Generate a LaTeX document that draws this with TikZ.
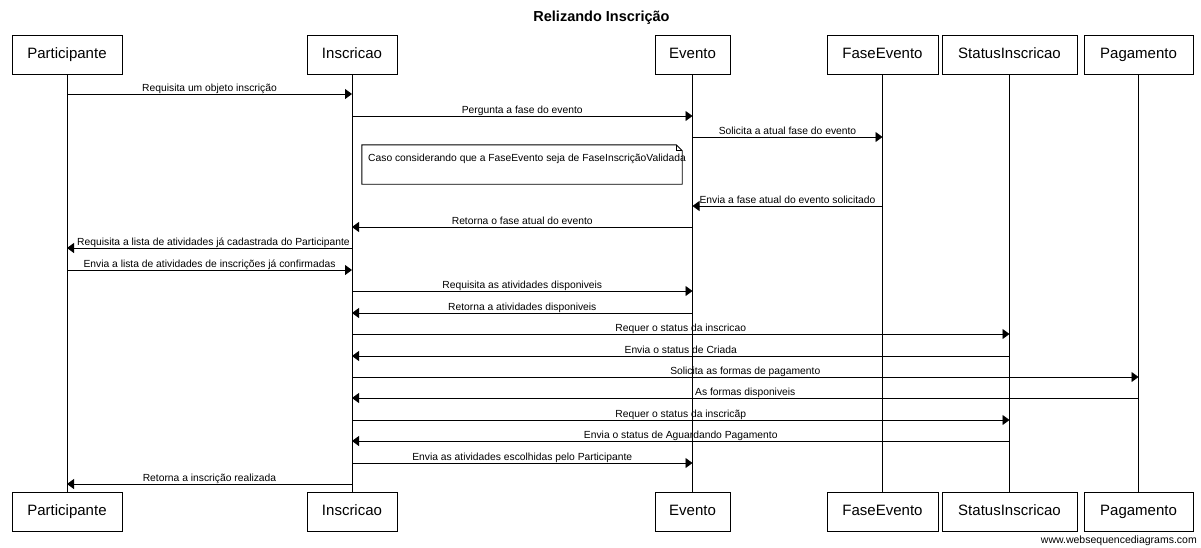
\documentclass[tikz,border=0pt]{standalone}
\usepackage{fontspec}
\setmainfont{Liberation Sans}
\usetikzlibrary{arrows.meta}
\begin{document}
\begin{tikzpicture}[x=1pt,y=-1pt,
  actor/.style={draw=black,fill=white,line width=0.9pt,minimum height=39pt,inner sep=0pt,text height=10.8pt,text depth=3.2pt,font=\fontsize{15}{18}\selectfont},
  life/.style={draw=black,line width=0.9pt},
  msg/.style={draw=black,line width=0.9pt,-{Triangle[length=7pt,width=10pt]}},
  lbl/.style={font=\fontsize{10.3}{12}\selectfont,inner sep=0pt,anchor=base,yshift=2.5pt},
  notetxt/.style={font=\fontsize{10.3}{12}\selectfont,inner sep=0pt,anchor=base west}]
\useasboundingbox[fill=white] (0,0) rectangle (1201,547);
\node[font=\bfseries\fontsize{14.5}{17}\selectfont] (title) at (601.5,18) {Relizando Inscrição};
% top boxes
\node[actor,minimum width=110pt] (pT) at (67,54.5) {Participante};
\node[actor,minimum width=90pt] (iT) at (352,54.5) {Inscricao};
\node[actor,minimum width=75pt] (eT) at (692.5,54.5) {Evento};
\node[actor,minimum width=111pt] (fT) at (882.5,54.5) {FaseEvento};
\node[actor,minimum width=135pt] (sT) at (1009.5,54.5) {StatusInscricao};
\node[actor,minimum width=109pt] (gT) at (1138.5,54.5) {Pagamento};
% bottom boxes
\node[actor,minimum width=110pt] (pB) at (67,511.5) {Participante};
\node[actor,minimum width=90pt] (iB) at (352,511.5) {Inscricao};
\node[actor,minimum width=75pt] (eB) at (692.5,511.5) {Evento};
\node[actor,minimum width=111pt] (fB) at (882.5,511.5) {FaseEvento};
\node[actor,minimum width=135pt] (sB) at (1009.5,511.5) {StatusInscricao};
\node[actor,minimum width=109pt] (gB) at (1138.5,511.5) {Pagamento};
% lifelines
\draw[life] (pT.south) -- (pB.north);
\draw[life] (iT.south) -- (iB.north);
\draw[life] (eT.south) -- (eB.north);
\draw[life] (fT.south) -- (fB.north);
\draw[life] (sT.south) -- (sB.north);
\draw[life] (gT.south) -- (gB.north);
% messages
\draw[msg] (pT |- 0,94) -- node[lbl]{Requisita um objeto inscrição} (iT |- 0,94);
\draw[msg] (iT |- 0,116) -- node[lbl]{Pergunta a fase do evento} (eT |- 0,116);
\draw[msg] (eT |- 0,137) -- node[lbl]{Solicita a atual fase do evento} (fT |- 0,137);
% note
\node[minimum width=320pt,minimum height=39pt,inner sep=0pt] (note) at (522,164.5) {};
\draw[line width=0.9pt,fill=white] (note.south west) -- (note.north west) -- ([xshift=-6pt]note.north east) -- ([yshift=-6pt]note.north east) -- (note.south east) -- cycle;
\draw[line width=0.9pt] ([xshift=-6pt]note.north east) -- ([xshift=-6pt,yshift=-6pt]note.north east) -- ([yshift=-6pt]note.north east);
\node[notetxt] (notet) at (368,161.5) {Caso considerando que a FaseEvento seja de FaseInscriçãoValidada};
\draw[msg] (fT |- 0,206) -- node[lbl]{Envia a fase atual do evento solicitado} (eT |- 0,206);
\draw[msg] (eT |- 0,227) -- node[lbl]{Retorna o fase atual do evento} (iT |- 0,227);
\draw[msg] (iT |- 0,248) -- node[lbl,xshift=4pt]{Requisita a lista de atividades já cadastrada do Participante} (pT |- 0,248);
\draw[msg] (pT |- 0,270) -- node[lbl]{Envia a lista de atividades de inscrições já confirmadas} (iT |- 0,270);
\draw[msg] (iT |- 0,291) -- node[lbl]{Requisita as atividades disponiveis} (eT |- 0,291);
\draw[msg] (eT |- 0,313) -- node[lbl]{Retorna a atividades disponiveis} (iT |- 0,313);
\draw[msg] (iT |- 0,334) -- node[lbl]{Requer o status da inscricao} (sT |- 0,334);
\draw[msg] (sT |- 0,356) -- node[lbl]{Envia o status de Criada} (iT |- 0,356);
\draw[msg] (iT |- 0,377) -- node[lbl]{Solicita as formas de pagamento} (gT |- 0,377);
\draw[msg] (gT |- 0,398) -- node[lbl]{As formas disponiveis} (iT |- 0,398);
\draw[msg] (iT |- 0,420) -- node[lbl]{Requer o status da inscricãp} (sT |- 0,420);
\draw[msg] (sT |- 0,441) -- node[lbl]{Envia o status de Aguardando Pagamento} (iT |- 0,441);
\draw[msg] (iT |- 0,463) -- node[lbl]{Envia as atividades escolhidas pelo Participante} (eT |- 0,463);
\draw[msg] (iT |- 0,484) -- node[lbl]{Retorna a inscrição realizada} (pT |- 0,484);
\node[font=\fontsize{10.5}{12}\selectfont,inner sep=0pt,anchor=base east] (footer) at (1197,543) {www.websequencediagrams.com};
\end{tikzpicture}
\end{document}
